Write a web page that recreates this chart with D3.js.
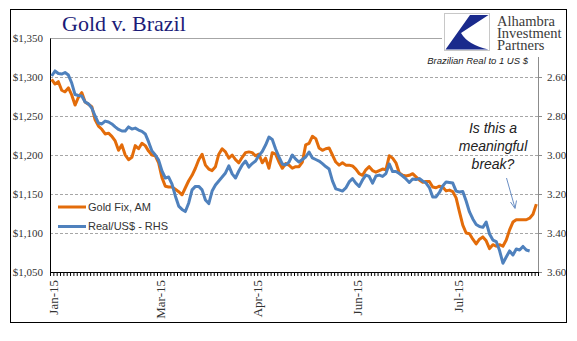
<!DOCTYPE html>
<html><head><meta charset="utf-8">
<script src="https://cdn.jsdelivr.net/npm/d3@7"></script>
<style>body{margin:0;background:#fff}svg{display:block}</style>
</head><body>
<svg id="c" width="577" height="341"></svg>
<script>
// ---- data ----
const goldValues = [1297,1291,1294,1283,1281,1286,1277,1264,1274,1280,
1268,1265,1262,1245,1237,1233,1227,1228,1224,1218,
1206,1213,1200,1194,1197,1212,1208,1215,1212,1205,
1200,1199,1190,1171,1160,1159,1159,1156,1153,1149,
1158,1167,1174,1183,1194,1201,1187,1182,1180,1185,
1201,1208,1204,1196,1200,1194,1190,1197,1203,1204,
1203,1199,1201,1190,1196,1183,1203,1201,1191,1183,
1189,1187,1183,1185,1185,1191,1213,1215,1224,1221,
1209,1206,1208,1209,1200,1191,1187,1190,1187,1187,
1186,1182,1176,1174,1181,1185,1180,1178,1180,1182,
1181,1199,1196,1190,1177,1174,1173,1174,1176,1172,
1168,1165,1166,1166,1159,1158,1160,1159,1154,1155,
1153,1145,1127,1110,1100,1099,1092,1086,1092,1095,
1090,1080,1085,1083,1085,1083,1091,1104,1114,1117,
1117,1117,1117,1119,1124,1137];
const realValues = [2.595,2.569,2.582,2.585,2.577,2.590,2.631,2.690,2.695,2.697,
2.728,2.738,2.759,2.800,2.836,2.841,2.826,2.831,2.841,2.856,
2.869,2.877,2.877,2.856,2.867,2.862,2.872,2.879,2.892,2.933,
2.979,3.000,3.026,3.082,3.118,3.113,3.149,3.210,3.262,3.279,
3.290,3.246,3.179,3.161,3.161,3.179,3.231,3.249,3.185,3.154,
3.133,3.113,3.092,3.056,3.097,3.118,3.082,3.051,3.031,3.062,
3.044,3.031,3.003,2.982,2.949,2.908,2.920,2.969,3.010,3.046,
3.051,3.036,3.000,3.021,3.036,3.023,3.010,2.985,3.015,3.023,
3.031,3.044,3.059,3.072,3.133,3.174,3.179,3.185,3.169,3.138,
3.121,3.144,3.161,3.128,3.103,3.110,3.144,3.108,3.103,3.110,
3.095,3.046,3.085,3.085,3.095,3.108,3.123,3.141,3.123,3.126,
3.121,3.133,3.144,3.167,3.215,3.215,3.192,3.159,3.138,3.141,
3.144,3.185,3.190,3.187,3.236,3.292,3.328,3.356,3.367,3.371,
3.344,3.405,3.436,3.444,3.490,3.555,3.523,3.492,3.513,3.482,
3.487,3.469,3.487,3.492];
const tickLabels = ["Jan-15","Mar-15","Apr-15","Jun-15","Jul-15"];
const tickIndex = [0,32,61,91,121];
const leftTicks = [1050,1100,1150,1200,1250,1300,1350];
const rightTicks = [2.60,2.80,3.00,3.20,3.40,3.60];
const seriesNames = ["Gold Fix, AM","Real/US$ - RHS"];
const seriesColors = ["#E36C0A","#4F81BD"];

// ---- layout ----
const L = 50, R = 538, T = 38, B = 272;
const svg = d3.select("#c");
const nCat = goldValues.length;
const x = d3.scaleBand().domain(d3.range(nCat)).range([L, R]);
const xc = i => x(i) + x.bandwidth()/2;
const xt = d3.scaleLinear().domain([0, nCat]).range([L, R]);
const yL = d3.scaleLinear().domain([1050, 1350]).range([B, T]);
const yR = d3.scaleLinear().domain([2.40, 3.60]).range([T, B]);

// outer frame
svg.append("rect").attr("x",10.5).attr("y",9.5).attr("width",556).attr("height",313)
  .attr("fill","#fff").attr("stroke","#000").attr("stroke-width",1);

// gridlines
const grid = svg.append("g").attr("transform",`translate(${L},0)`)
  .call(d3.axisLeft(yL).tickValues(leftTicks.filter(d=>d>1050)).tickSize(-(R-L)).tickFormat(""));
grid.select(".domain").remove();
grid.selectAll("line").attr("stroke","#a6a6a6").attr("stroke-width",1)
  .attr("stroke-dasharray", d => d===1350 ? null : "3,2");

// left axis labels
const la = svg.append("g").attr("transform",`translate(${L},0)`)
  .call(d3.axisLeft(yL).tickValues(leftTicks).tickSize(0).tickPadding(7)
    .tickFormat(d => "$" + d3.format(",")(d)));
la.select(".domain").attr("stroke","#000");
la.selectAll("text").attr("font-family","'Liberation Serif', serif").attr("font-size",11).attr("fill","#333");

// right axis
const ra = svg.append("g").attr("transform",`translate(${R},0)`)
  .call(d3.axisRight(yR).tickValues(rightTicks).tickSize(4).tickPadding(5)
    .tickFormat(d3.format(".2f")));
ra.select(".domain").attr("stroke","#8c8c8c");
ra.selectAll("line").attr("stroke","#8c8c8c");
ra.selectAll("text").attr("font-family","'Liberation Serif', serif").attr("font-size",11).attr("fill","#333");

// bottom axis with per-category minor ticks
const ba = svg.append("g").attr("transform",`translate(0,${B})`)
  .call(d3.axisBottom(xt).tickValues(d3.range(nCat+1)).tickSize(4).tickFormat(""));
ba.select(".domain").attr("stroke","#000");
ba.selectAll("line").attr("stroke","#000");
svg.append("g").selectAll("text").data(tickIndex).join("text")
  .attr("transform", (d)=>`translate(${xc(d)+2},280) rotate(-90)`)
  .attr("text-anchor","end").attr("dy","0.35em")
  .attr("font-family","'Liberation Serif', serif").attr("font-size",13).attr("fill","#333")
  .text((d,i)=>tickLabels[i]);

// lines
const lineG = d3.line().x((d,i)=>xc(i)).y(d=>yL(d));
const lineR = d3.line().x((d,i)=>xc(i)).y(d=>yR(d));
svg.append("path").datum(goldValues).attr("d",lineG).attr("fill","none")
  .attr("stroke",seriesColors[0]).attr("stroke-width",3).attr("stroke-linejoin","round");
svg.append("path").datum(realValues).attr("d",lineR).attr("fill","none")
  .attr("stroke",seriesColors[1]).attr("stroke-width",3).attr("stroke-linejoin","round");

// legend
const lg = svg.append("g");
seriesNames.forEach((n,i)=>{
  const yy = 207 + i*19.5;
  lg.append("line").attr("x1",58).attr("x2",86).attr("y1",yy).attr("y2",yy)
    .attr("stroke",seriesColors[i]).attr("stroke-width",3);
  lg.append("text").attr("x",88).attr("y",yy).attr("dy","0.35em")
    .attr("font-family","'Liberation Sans', Arial, sans-serif").attr("font-size",11).attr("fill","#333").text(n);
});

// logo area (white background)
svg.append("rect").attr("x",442).attr("y",10).attr("width",124).attr("height",47).attr("fill","#fff");
svg.append("rect").attr("x",444.5).attr("y",13.5).attr("width",45).attr("height",37)
  .attr("fill","#fff").attr("stroke","#c8c8c8");
svg.append("path").attr("d","M470,15 L488.5,15 L461,33 Q468,45 488.5,49.5 L445.5,49.5 Z").attr("fill","#1a2a8c");
["Alhambra","Investment","Partners"].forEach((t,i)=>{
  svg.append("text").attr("x",497).attr("y",26+i*12)
    .attr("font-family","'Liberation Serif', serif").attr("font-size",14.5).attr("fill","#3a3a3a").text(t);
});
svg.append("text").attr("x",528).attr("y",64).attr("text-anchor","end")
  .attr("font-family","'Liberation Sans', sans-serif").attr("font-style","italic").attr("font-size",9.5)
  .attr("fill","#222").text("Brazilian Real to 1 US $");

// title
svg.append("text").attr("x",62).attr("y",31)
  .attr("font-family","'Liberation Serif', serif").attr("font-size",22).attr("fill","#1c1c78").text("Gold v. Brazil");

// annotation
["Is this a","meaningful","break?"].forEach((t,i)=>{
  svg.append("text").attr("x",493).attr("y",133+i*18).attr("text-anchor","middle")
    .attr("font-family","'Liberation Sans', sans-serif").attr("font-style","italic").attr("font-size",14)
    .attr("fill","#222").text(t);
});
svg.append("line").attr("x1",506.5).attr("y1",178).attr("x2",515).attr("y2",208)
  .attr("stroke","#6b8fc4").attr("stroke-width",1);
svg.append("path").attr("d","M510.5,202 L515,208.5 L516.5,200.5").attr("fill","none")
  .attr("stroke","#6b8fc4").attr("stroke-width",1);
</script>
</body></html>
